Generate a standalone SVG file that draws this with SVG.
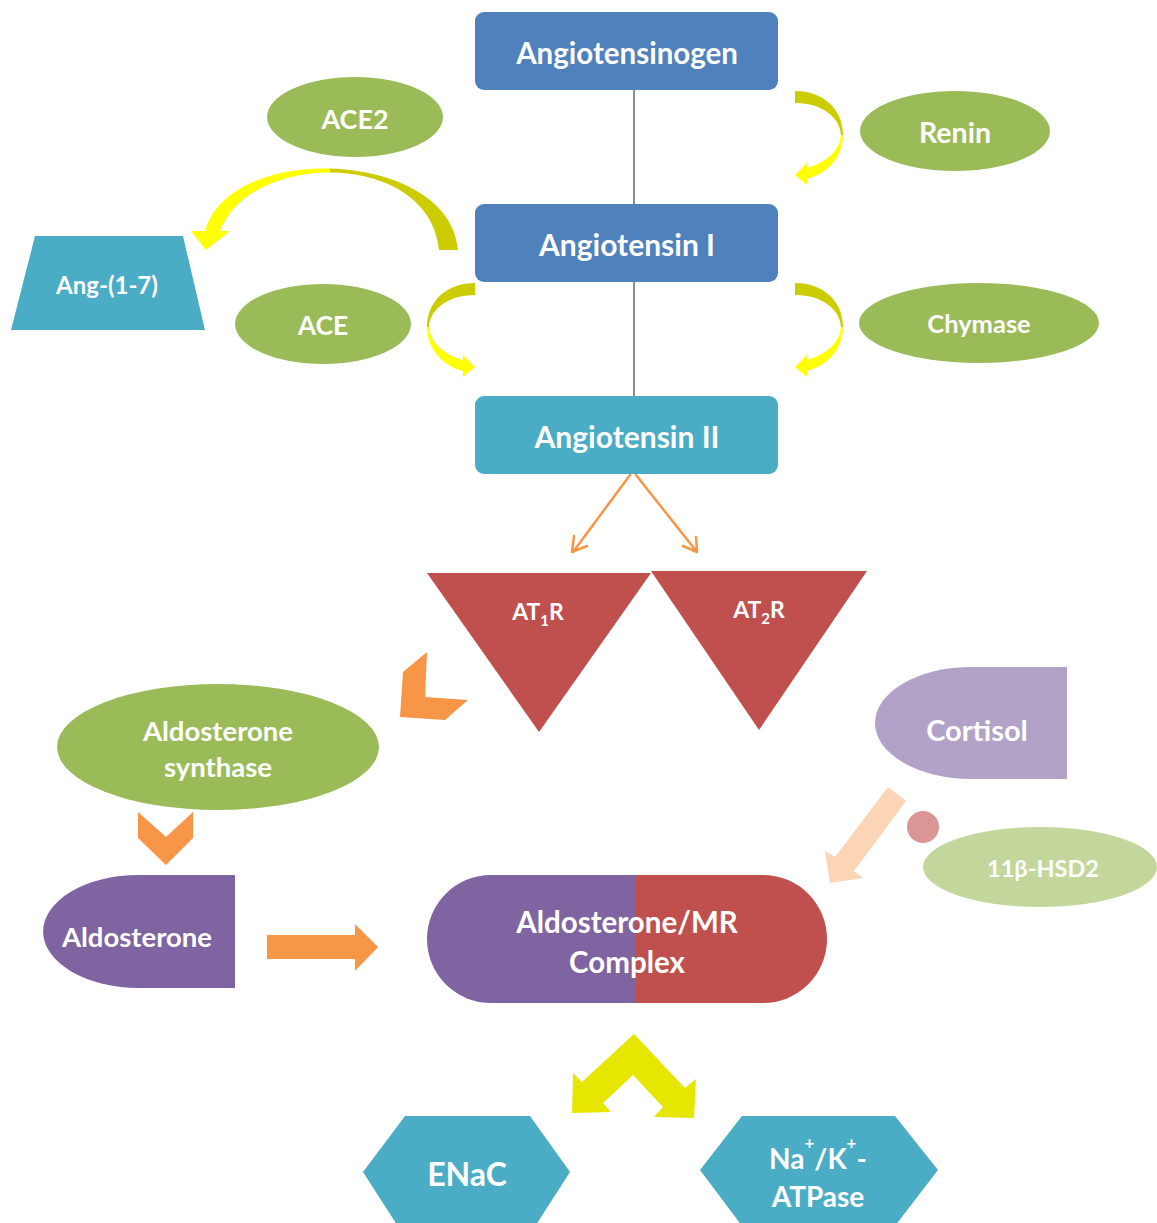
<svg xmlns="http://www.w3.org/2000/svg" xmlns:xlink="http://www.w3.org/1999/xlink" width="1157" height="1223" viewBox="0 0 1157 1223">
<style>
text{font-family:Lato,"Open Sans","Liberation Sans",sans-serif;font-weight:bold;fill:#fff;text-anchor:middle;dominant-baseline:central}
.blue{fill:#4F81BD}.aqua{fill:#4BACC6}.green{fill:#9BBB59}.red{fill:#C0504D}.purple{fill:#8064A2}.orange{fill:#F79646}
.gline{stroke:#8C8C8C;stroke-width:2;fill:none}
.oline{stroke:#F79646;stroke-width:2.5;fill:none;stroke-linecap:round}
</style>
<defs>
<linearGradient id="gsmall" x1="0" y1="0" x2="0" y2="1">
<stop offset="0" stop-color="#CCCC00"/><stop offset="0.47" stop-color="#CCCC00"/><stop offset="0.47" stop-color="#FFFF00"/><stop offset="1" stop-color="#FFFF00"/>
</linearGradient>
<linearGradient id="gbig" gradientUnits="userSpaceOnUse" x1="191" y1="0" x2="458" y2="0">
<stop offset="0" stop-color="#FFFF00"/><stop offset="0.52" stop-color="#FFFF00"/><stop offset="0.52" stop-color="#CCCC00"/><stop offset="1" stop-color="#CCCC00"/>
</linearGradient>
<path id="carrow" d="M0,0 C-28,0 -48,18 -48,44 C-48,66 -32,83 -12,88 L-12,94 L0,84 L-12,72 L-12,77 C-30,72 -45,60 -46,44 C-45,27 -28,12 0,12 Z" fill="url(#gsmall)"/>
</defs>

<g id="connectors">
<line class="gline" x1="634" y1="90" x2="634" y2="204"/>
<line class="gline" x1="634" y1="282" x2="634" y2="396"/>
<path d="M458,250 C450,150 230,140 205,231 L191,231 L206,250 L230,231 L220,231 C250,150 430,150 439,250 Z" fill="url(#gbig)"/>
<use xlink:href="#carrow" href="#carrow" transform="translate(475,283)"/>
<use xlink:href="#carrow" href="#carrow" transform="translate(795,283) scale(-1,1)"/>
<use xlink:href="#carrow" href="#carrow" transform="translate(795,91) scale(-1,1)"/>
<path class="oline" d="M630,475 L573,552 M572,552 L574,536 M572,552 L587,546"/>
<path class="oline" d="M636,475 L697,552 M697,552 L683,546 M697,552 L696,537"/>
<polygon class="orange" points="427,652 403,672 400,717 445,720 468,700 425,697"/>
<polygon class="orange" points="138,812 166,837 193,812 193,838 166,865 138,838"/>
<polygon class="orange" points="267,935 355,935 355,924 378,947 355,971 355,959 267,959"/>
<polygon fill="#FBD5B5" points="888,787 906,801 854,871 863,878 830,883 825,851 835,857"/>
<circle cx="923" cy="827" r="16" fill="#D99694"/>
<polygon fill="#E6E600" points="634,1034 685,1088 696,1079 694,1118 654,1117 663,1107 633,1075 603,1103 611,1112 572,1113 573,1073 582,1082"/>
</g>

<g id="angiotensinogen"><rect class="blue" x="475" y="12" width="303" height="78" rx="9"/><text x="627" y="52" font-size="29.5">Angiotensinogen</text></g>
<g id="angiotensin1"><rect class="blue" x="475" y="204" width="303" height="78" rx="9"/><text x="627" y="244" font-size="30">Angiotensin I</text></g>
<g id="angiotensin2"><rect class="aqua" x="475" y="396" width="303" height="78" rx="9"/><text x="627" y="436" font-size="30">Angiotensin II</text></g>
<g id="ace2"><ellipse class="green" cx="355" cy="117" rx="88" ry="40"/><text x="355" y="118" font-size="27">ACE2</text></g>
<g id="renin"><ellipse class="green" cx="955" cy="131" rx="95" ry="40"/><text x="955" y="132" font-size="28.5">Renin</text></g>
<g id="ace"><ellipse class="green" cx="323" cy="324" rx="88" ry="40"/><text x="323" y="325" font-size="26.5">ACE</text></g>
<g id="chymase"><ellipse class="green" cx="979" cy="323" rx="120" ry="40"/><text x="979" y="323" font-size="25.5">Chymase</text></g>
<g id="ang17"><polygon class="aqua" points="35,236 183,236 205,330 11,330"/><text x="107" y="284" font-size="24">Ang-(1-7)</text></g>
<g id="at1r"><polygon class="red" points="427,573 651,573 539,732"/><text x="538" y="611" font-size="23">AT<tspan font-size="15" dy="9">1</tspan><tspan dy="-9">R</tspan></text></g>
<g id="at2r"><polygon class="red" points="651,571 867,571 759,730"/><text x="759" y="609" font-size="23">AT<tspan font-size="15" dy="9">2</tspan><tspan dy="-9">R</tspan></text></g>
<g id="aldosynthase"><ellipse class="green" cx="218" cy="747" rx="161" ry="63"/><text x="218" y="730" font-size="27.5">Aldosterone</text><text x="218" y="766" font-size="27.5">synthase</text></g>
<g id="aldosterone"><path class="purple" d="M235,875 H139 A96,56.5 0 0 0 139,988 H235 Z"/><text x="137" y="936" font-size="27.5">Aldosterone</text></g>
<g id="cortisol"><path fill="#B2A2C7" d="M1067,667 H971 A96,56 0 0 0 971,779 H1067 Z"/><text x="977" y="729" font-size="29">Cortisol</text></g>
<g id="hsd2"><ellipse fill="#C3D69B" cx="1040" cy="867" rx="117" ry="40"/><text x="1043" y="868" font-size="23.5">11β-HSD2</text></g>
<g id="complex"><path class="purple" d="M636,875 H491 A64,64 0 0 0 491,1003 H636 Z"/><path class="red" d="M636,875 H763 A64,64 0 0 1 763,1003 H636 Z"/><text x="627" y="921" font-size="29.5">Aldosterone/MR</text><text x="627" y="961" font-size="29.5">Complex</text></g>
<g id="enac"><polygon class="aqua" points="363,1172 405,1116 530,1116 570,1172 534,1228 399,1228"/><text x="467" y="1173" font-size="32">ENaC</text></g>
<g id="nakatpase"><polygon class="aqua" points="700,1170 742,1116 895,1116 938,1170 895,1226 742,1226"/><text x="818" y="1158" font-size="28">Na<tspan font-size="17" dy="-16">+</tspan><tspan dy="16">/K</tspan><tspan font-size="17" dy="-16">+</tspan><tspan dy="16">-</tspan></text><text x="818" y="1196" font-size="28">ATPase</text></g>
</svg>
